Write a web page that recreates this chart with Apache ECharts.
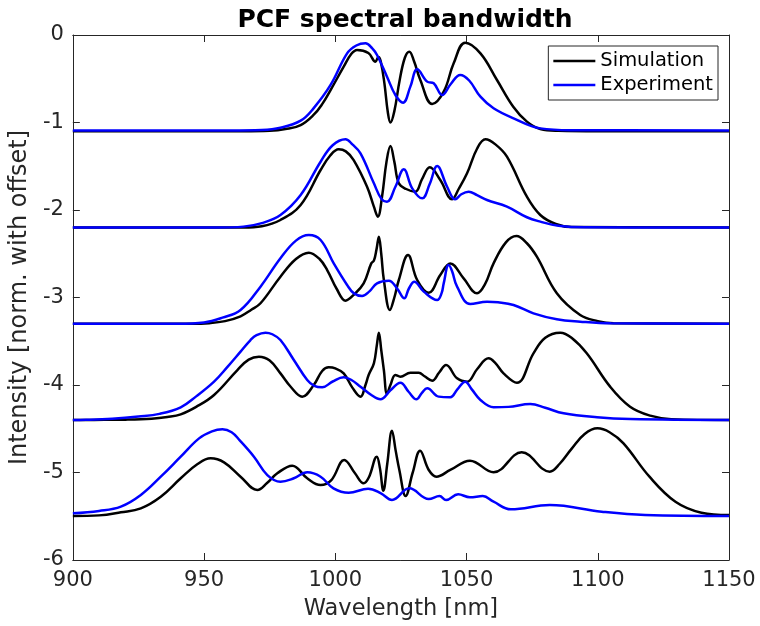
<!DOCTYPE html>
<html lang="en">
<head>
    <meta charset="UTF-8">
    <title>PCF spectral bandwidth</title>
    <script src="https://cdn.jsdelivr.net/npm/echarts@6/dist/echarts.min.js"></script>
    <style>
        html, body { margin: 0; padding: 0; background: #fff; }
    </style>
</head>
<body>
<div id="main" style="width: 760px;height:626px;"></div>
<script>
    // [wavelength nm, normalised intensity with offset]
    var sim1 = [[900,-1.1],[965,-1.1],[975,-1.095],[981,-1.075],[986.8,-1.029],[991.7,-0.914],[995,-0.79],[998.2,-0.629],[1003.2,-0.362],[1006,-0.22],[1008.3,-0.171],[1012.6,-0.206],[1015.3,-0.305],[1016.4,-0.25],[1017.3,-0.3],[1018.7,-0.55],[1020,-0.88],[1021,-1.0],[1022.5,-0.87],[1024.5,-0.52],[1026.5,-0.26],[1028.2,-0.191],[1030,-0.3],[1032.4,-0.514],[1036.9,-0.789],[1041.3,-0.648],[1045.1,-0.324],[1049.5,-0.088],[1055.3,-0.21],[1061.6,-0.514],[1067.8,-0.819],[1073,-0.99],[1078.1,-1.074],[1085,-1.095],[1100,-1.1],[1150,-1.1]];
    var exp1 = [[900,-1.09],[960,-1.09],[972,-1.085],[979.1,-1.06],[986.8,-0.979],[991.7,-0.838],[998.2,-0.571],[1004.5,-0.21],[1008,-0.12],[1011.5,-0.095],[1014,-0.15],[1015.9,-0.229],[1019.7,-0.476],[1022.9,-0.686],[1025.8,-0.773],[1028.6,-0.59],[1031.2,-0.392],[1035,-0.533],[1037.5,-0.552],[1040.7,-0.686],[1044,-0.56],[1047.6,-0.457],[1051,-0.52],[1055.3,-0.705],[1060.3,-0.838],[1067.9,-0.952],[1078.1,-1.067],[1090,-1.088],[1150,-1.09]];

    var sim2 = [[900,-2.2],[965,-2.2],[972,-2.185],[979.1,-2.114],[986.8,-1.943],[994.4,-1.543],[998,-1.38],[1001.3,-1.306],[1004,-1.33],[1007,-1.429],[1012.1,-1.734],[1014.7,-1.962],[1016.2,-2.076],[1017.8,-1.848],[1019.5,-1.45],[1021,-1.269],[1022.5,-1.45],[1024.2,-1.695],[1027,-1.76],[1030.5,-1.791],[1033,-1.65],[1036,-1.512],[1040,-1.657],[1044.5,-1.878],[1047,-1.76],[1050.2,-1.581],[1054,-1.3],[1057.2,-1.192],[1061,-1.25],[1065.4,-1.39],[1073,-1.848],[1078.1,-2.057],[1084,-2.16],[1090,-2.195],[1150,-2.2]];
    var exp2 = [[900,-2.2],[955,-2.2],[965,-2.19],[972,-2.15],[979.1,-2.057],[986.8,-1.829],[994.4,-1.448],[999,-1.26],[1003.9,-1.192],[1006.5,-1.25],[1009.6,-1.352],[1014.7,-1.695],[1017.5,-1.87],[1019.7,-1.905],[1022.9,-1.734],[1026.1,-1.535],[1029.3,-1.752],[1033.1,-1.867],[1036,-1.7],[1038.8,-1.497],[1042.6,-1.734],[1045.7,-1.878],[1048,-1.82],[1050.8,-1.791],[1054,-1.83],[1057.8,-1.886],[1065.4,-1.962],[1073,-2.083],[1078.1,-2.133],[1085,-2.18],[1095,-2.198],[1150,-2.2]];

    var sim3 = [[900,-3.3],[945,-3.3],[952,-3.293],[958,-3.27],[963.9,-3.215],[968,-3.14],[971.5,-3.066],[979.1,-2.762],[985,-2.56],[989.9,-2.488],[994,-2.56],[996.9,-2.686],[1000.5,-2.9],[1003.9,-3.036],[1007,-2.97],[1010.8,-2.838],[1013.7,-2.61],[1014.7,-2.579],[1015.7,-2.45],[1016.6,-2.305],[1017.5,-2.5],[1018.5,-2.8],[1020.8,-3.143],[1022.5,-3.0],[1024.2,-2.8],[1027.7,-2.514],[1031.2,-2.8],[1035.6,-2.945],[1040,-2.743],[1043.8,-2.61],[1048.9,-2.781],[1054,-2.952],[1057,-2.85],[1060.3,-2.61],[1065,-2.37],[1069,-2.297],[1073,-2.38],[1076.8,-2.534],[1084.4,-2.952],[1093.3,-3.2],[1100,-3.27],[1106,-3.295],[1150,-3.3]];
    var exp3 = [[900,-3.3],[940,-3.3],[950,-3.285],[957,-3.23],[963.9,-3.143],[971.5,-2.876],[979.1,-2.552],[985,-2.35],[989.9,-2.286],[994.4,-2.343],[999.4,-2.61],[1004.5,-2.857],[1007,-2.95],[1010.2,-2.983],[1013,-2.93],[1015.9,-2.838],[1020.4,-2.808],[1023.5,-2.895],[1026.3,-3.009],[1028,-2.9],[1030.1,-2.819],[1033.7,-2.933],[1038.8,-3.029],[1040.5,-2.95],[1041.3,-2.838],[1043.2,-2.629],[1044.5,-2.7],[1046.4,-2.876],[1051.4,-3.074],[1057.8,-3.048],[1062,-3.055],[1067.9,-3.086],[1075.5,-3.181],[1084.4,-3.249],[1093.3,-3.276],[1105,-3.295],[1150,-3.3]];

    var sim4 = [[900,-4.4],[912,-4.398],[920,-4.396],[930,-4.385],[936,-4.365],[941.1,-4.335],[947,-4.25],[953.8,-4.114],[962.7,-3.829],[967,-3.71],[970.9,-3.676],[975,-3.72],[979.1,-3.867],[983,-4.02],[987.4,-4.133],[991.8,-4.0],[995,-3.84],[997.5,-3.798],[1000,-3.81],[1003.2,-3.867],[1006.5,-4.03],[1009.6,-4.133],[1011.5,-4.0],[1012.7,-3.886],[1014.7,-3.752],[1015.8,-3.55],[1016.6,-3.402],[1017.5,-3.6],[1018.5,-3.829],[1019.7,-4.103],[1021,-4.0],[1022.9,-3.886],[1024.8,-3.905],[1028.6,-3.859],[1031.8,-3.859],[1034,-3.9],[1036.9,-3.951],[1039.5,-3.86],[1042.2,-3.771],[1046.4,-3.924],[1050.2,-3.962],[1054,-3.82],[1058.4,-3.695],[1061,-3.75],[1064.1,-3.867],[1069.2,-3.974],[1075.5,-3.638],[1080,-3.46],[1085.7,-3.402],[1090,-3.46],[1095.8,-3.638],[1104.7,-4.019],[1112.3,-4.248],[1120,-4.35],[1128,-4.39],[1150,-4.4]];
    var exp4 = [[900,-4.4],[905,-4.398],[915,-4.385],[925,-4.36],[933,-4.33],[941.1,-4.255],[947,-4.13],[953.8,-3.962],[959,-3.79],[963.9,-3.619],[967.7,-3.486],[970,-3.43],[973.4,-3.402],[976,-3.42],[979.1,-3.486],[984.2,-3.714],[989.3,-3.943],[992,-4.01],[995,-4.026],[999,-3.96],[1003.2,-3.912],[1006,-3.94],[1009.6,-4.019],[1014,-4.12],[1017.2,-4.163],[1021,-4.06],[1024.8,-3.974],[1028,-4.08],[1030.9,-4.163],[1033,-4.09],[1035,-4.038],[1039.4,-4.133],[1043.8,-4.141],[1046.5,-4.05],[1049.5,-3.962],[1052,-4.05],[1055.3,-4.171],[1060.3,-4.255],[1066,-4.25],[1074.3,-4.217],[1080,-4.26],[1087,-4.324],[1099.7,-4.369],[1112.3,-4.389],[1150,-4.4]];

    var sim5 = [[900,-5.497],[910,-5.49],[918.3,-5.455],[925.9,-5.41],[933.5,-5.277],[941.1,-5.066],[947.4,-4.906],[952.5,-4.838],[957.6,-4.884],[963.9,-5.048],[970.3,-5.2],[974,-5.12],[977.9,-5.009],[983.6,-4.922],[989.3,-5.066],[994.4,-5.143],[998.5,-5.086],[1003.4,-4.857],[1007.5,-5.009],[1010.8,-5.124],[1012.8,-5.055],[1015.8,-4.819],[1017,-4.95],[1018.3,-5.208],[1019.8,-4.9],[1021.6,-4.522],[1023,-4.75],[1024.4,-4.971],[1026.8,-5.269],[1029.5,-5.0],[1032.3,-4.751],[1035.6,-4.971],[1038.5,-5.048],[1043.8,-4.971],[1051.3,-4.865],[1060.3,-4.998],[1071,-4.769],[1081.7,-4.99],[1085.5,-4.9],[1090,-4.73],[1095,-4.56],[1099.9,-4.495],[1104.5,-4.54],[1109.8,-4.667],[1119.7,-5.048],[1129.6,-5.334],[1139.5,-5.459],[1150,-5.486]];
    var exp5 = [[900,-5.467],[910,-5.44],[918.3,-5.39],[925.9,-5.257],[933.5,-5.048],[941.1,-4.819],[948.1,-4.61],[953,-4.53],[957,-4.506],[960.5,-4.54],[963.5,-4.63],[969,-4.819],[974.1,-5.029],[979.1,-5.105],[984.2,-5.066],[989.3,-4.998],[994.4,-5.048],[999.3,-5.181],[1005.1,-5.231],[1012.5,-5.185],[1017.4,-5.238],[1021.6,-5.314],[1028.2,-5.181],[1035.6,-5.303],[1039.7,-5.269],[1042.2,-5.314],[1046.8,-5.249],[1051.3,-5.283],[1056.2,-5.269],[1060.3,-5.334],[1066.9,-5.421],[1081.7,-5.372],[1101.5,-5.448],[1118,-5.486],[1150,-5.497]];

    var simSets = [sim1, sim2, sim3, sim4, sim5];
    var expSets = [exp1, exp2, exp3, exp4, exp5];

    var txt = '#262626';
    var font = 'DejaVu Sans';

    var myChart = echarts.init(document.getElementById('main'));

    var series = [];
    for (var i = 0; i < 5; i++) {
        series.push({
            name: 'Simulation', type: 'line', data: simSets[i],
            smooth: 0.4, showSymbol: false, symbol: 'none',
            lineStyle: {color: '#000000', width: 2.5}, itemStyle: {color: '#000000'},
            z: 2
        });
        series.push({
            name: 'Experiment', type: 'line', data: expSets[i],
            smooth: 0.4, showSymbol: false, symbol: 'none',
            lineStyle: {color: '#0000ff', width: 2.5}, itemStyle: {color: '#0000ff'},
            z: 3
        });
    }

    var plain = function (v) { return String(v); };

    var option = {
        animation: false,
        backgroundColor: '#ffffff',
        textStyle: {fontFamily: font, color: txt},
        title: {
            text: 'PCF spectral bandwidth',
            left: 400, top: 3, textAlign: 'center',
            textStyle: {fontFamily: font, fontSize: 25, fontWeight: 'bold', color: '#000'}
        },
        legend: {
            orient: 'vertical', right: 42, top: 46,
            data: ['Simulation', 'Experiment'],
            icon: 'rect', itemWidth: 42, itemHeight: 2.5, itemGap: 4,
            padding: [5, 5, 5, 5],
            backgroundColor: '#fff', borderColor: txt, borderWidth: 1,
            textStyle: {fontFamily: font, fontSize: 19.5, color: '#000'}
        },
        grid: {left: 72, right: 31, top: 35, bottom: 66, containLabel: false},
        xAxis: [{
            type: 'value', min: 900, max: 1150, interval: 50,
            name: 'Wavelength [nm]', nameLocation: 'middle', nameGap: 38,
            nameTextStyle: {fontFamily: font, fontSize: 22.5, color: txt},
            axisLine: {show: true, onZero: false, lineStyle: {color: txt, width: 1}},
            axisTick: {show: true, inside: true, length: 7, lineStyle: {color: txt}},
            axisLabel: {fontFamily: font, fontSize: 21, color: txt, margin: 10, formatter: plain},
            splitLine: {show: false}
        }, {
            type: 'value', min: 900, max: 1150, interval: 50, position: 'top',
            axisLine: {show: true, onZero: false, lineStyle: {color: txt, width: 1}},
            axisTick: {show: true, inside: true, length: 7, lineStyle: {color: txt}},
            axisLabel: {show: false}, splitLine: {show: false}
        }],
        yAxis: [{
            type: 'value', min: -6, max: 0, interval: 1,
            name: 'Intensity [norm. with offset]', nameLocation: 'middle', nameGap: 36,
            nameTextStyle: {fontFamily: font, fontSize: 24, color: txt},
            axisLine: {show: true, onZero: false, lineStyle: {color: txt, width: 1}},
            axisTick: {show: true, inside: true, length: 7, lineStyle: {color: txt}},
            axisLabel: {fontFamily: font, fontSize: 21, color: txt, margin: 9, formatter: plain},
            splitLine: {show: false}
        }, {
            type: 'value', min: -6, max: 0, interval: 1, position: 'right',
            axisLine: {show: true, onZero: false, lineStyle: {color: txt, width: 1}},
            axisTick: {show: true, inside: true, length: 7, lineStyle: {color: txt}},
            axisLabel: {show: false}, splitLine: {show: false}
        }],
        series: series
    };
    myChart.setOption(option);
</script>
</body>
</html>
